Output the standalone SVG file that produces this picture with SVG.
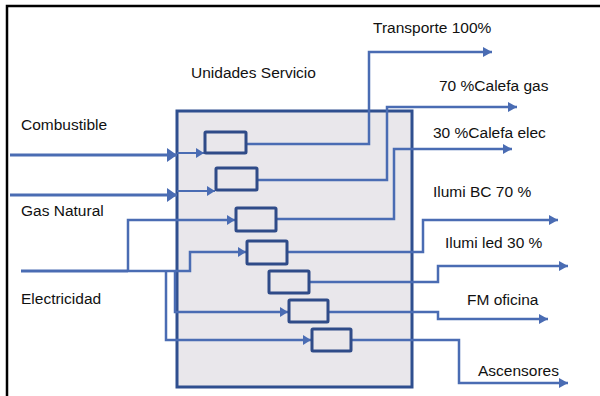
<svg xmlns="http://www.w3.org/2000/svg" width="600" height="396" viewBox="0 0 600 396">
<defs>
<style>
.lbl{font-family:"Liberation Sans",Arial,sans-serif;font-size:15.5px;fill:#111}
.ln{fill:none;stroke:#4a6cb3;stroke-width:2.5;stroke-linejoin:miter}
.in{fill:none;stroke:#4a6cb3;stroke-width:3}
.thin{fill:none;stroke:#4a6cb3;stroke-width:2}
.ub{fill:#e9e7eb;stroke:#2f4b88;stroke-width:3}
</style>
<marker id="big" markerUnits="userSpaceOnUse" markerWidth="10" markerHeight="14" refX="10" refY="7" orient="auto">
<path d="M0,0 L10,7 L0,14 Z" fill="#4a6cb3"/>
</marker>
<marker id="sm" markerUnits="userSpaceOnUse" markerWidth="8" markerHeight="10" refX="8" refY="5" orient="auto">
<path d="M0,0 L8,5 L0,10 Z" fill="#4a6cb3"/>
</marker>
<marker id="out" markerUnits="userSpaceOnUse" markerWidth="9" markerHeight="10" refX="9" refY="5" orient="auto">
<path d="M0,0 L9,5 L0,10 Z" fill="#4a6cb3"/>
</marker>
</defs>
<rect width="600" height="396" fill="#fff"/>
<g id="frame"><rect x="7" y="6" width="600" height="400" fill="#fff" stroke="#000" stroke-width="2.5"/></g>
<g id="unidades"><rect x="177" y="111" width="235" height="276" fill="#e9e7eb" stroke="#2f4f8f" stroke-width="3"/>
<text class="lbl" x="191" y="78">Unidades Servicio</text></g>
<g id="connectors">
<path class="in" d="M10,155 H177" marker-end="url(#big)"/>
<path class="thin" d="M177,153 H204" marker-end="url(#sm)"/>
<path class="in" d="M10,195 H177" marker-end="url(#big)"/>
<path class="thin" d="M177,191 H215" marker-end="url(#sm)"/>
<path class="in" d="M21,271 H128"/>
<path class="ln" d="M128,271 H190 V252 H246" marker-end="url(#sm)"/>
<path class="ln" d="M128,271 V220 H235" marker-end="url(#sm)"/>
<path class="ln" d="M175,271 V312 H288" marker-end="url(#sm)"/>
<path class="ln" d="M166,271 V340 H311" marker-end="url(#sm)"/>
<path class="ln" d="M246,144 H369 V52 H492" marker-end="url(#out)"/>
<path class="ln" d="M257,180 H387 V107 H517" marker-end="url(#out)"/>
<path class="ln" d="M276,219 H394 V149 H512" marker-end="url(#out)"/>
<path class="ln" d="M287,252 H423 V220 H558" marker-end="url(#out)"/>
<path class="ln" d="M309,282 H438 V266 H568" marker-end="url(#out)"/>
<path class="ln" d="M328,312 H438 V319 H548" marker-end="url(#out)"/>
<path class="ln" d="M351,340 H459 V383 H568" marker-end="url(#out)"/>
</g>
<g id="u1"><rect class="ub" x="205" y="132" width="41" height="21" rx="1"/></g>
<g id="u2"><rect class="ub" x="216" y="168" width="41" height="22" rx="1"/></g>
<g id="u3"><rect class="ub" x="236" y="208" width="40" height="23" rx="1"/></g>
<g id="u4"><rect class="ub" x="247" y="241" width="40" height="23" rx="1"/></g>
<g id="u5"><rect class="ub" x="269" y="271" width="40" height="22" rx="1"/></g>
<g id="u6"><rect class="ub" x="289" y="300" width="39" height="22" rx="1"/></g>
<g id="u7"><rect class="ub" x="312" y="329" width="39" height="22" rx="1"/></g>
<g id="in-combustible"><text class="lbl" x="21" y="130">Combustible</text></g>
<g id="in-gas"><text class="lbl" x="21" y="216">Gas Natural</text></g>
<g id="in-elec"><text class="lbl" x="21" y="304">Electricidad</text></g>
<g id="out-transporte"><text class="lbl" x="373" y="33">Transporte 100%</text></g>
<g id="out-calefgas"><text class="lbl" x="439" y="91">70 %Calefa gas</text></g>
<g id="out-calefelec"><text class="lbl" x="433" y="138">30 %Calefa elec</text></g>
<g id="out-ilumibc"><text class="lbl" x="433" y="197">Ilumi BC 70 %</text></g>
<g id="out-ilumiled"><text class="lbl" x="445" y="248">Ilumi led 30 %</text></g>
<g id="out-fm"><text class="lbl" x="467" y="305">FM oficina</text></g>
<g id="out-asc"><text class="lbl" x="478" y="376">Ascensores</text></g>
</svg>
